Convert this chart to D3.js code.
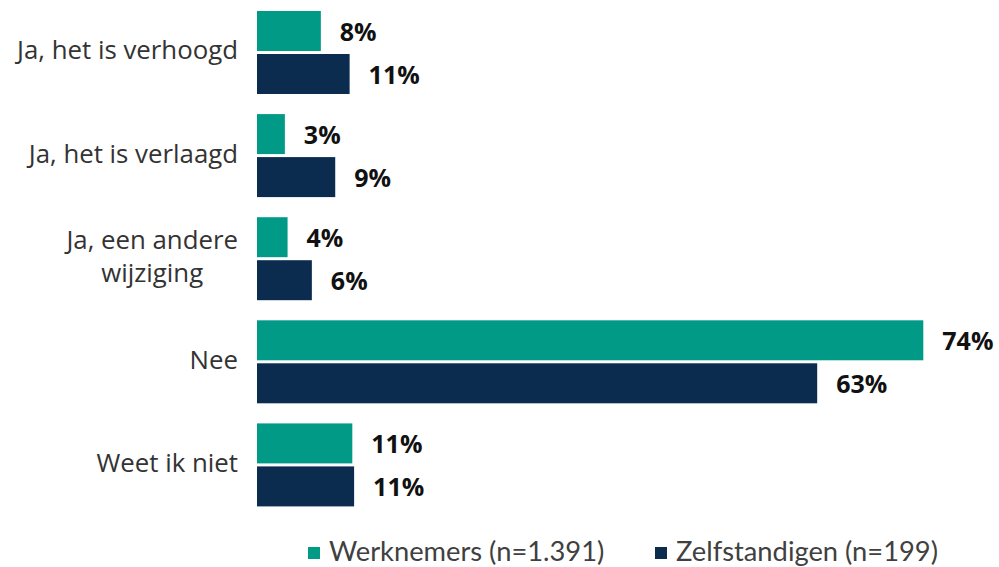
<!DOCTYPE html>
<meta charset="utf-8">
<head>
<script src="https://d3js.org/d3.v7.min.js"></script>
<style>
  body { margin: 0; background: #fff; }
  svg { display: block; }
</style>
</head>
<body>
<svg id="chart"></svg>
<script>
// categories (label lines)
var categories = [
  ["Ja, het is verhoogd"],
  ["Ja, het is verlaagd"],
  ["Ja, een andere", "wijziging"],
  ["Nee"],
  ["Weet ik niet"]
];
var series = ["Werknemers (n=1.391)", "Zelfstandigen (n=199)"];
// bar lengths, in %
var werknemers    = [7.1, 3.1, 3.4, 74.1, 10.6];
var zelfstandigen = [10.3, 8.7, 6.1, 62.3, 10.8];
// printed labels
var werknemersLabels    = ["8%", "3%", "4%", "74%", "11%"];
var zelfstandigenLabels = ["11%", "9%", "6%", "63%", "11%"];
var colors = ["#009A87", "#0B2B4F"];

var W = 999, H = 567;
var svg = d3.select("#chart").attr("width", W).attr("height", H);

var x = d3.scaleLinear().domain([0, 74.1]).range([257, 923.3]);
var y = d3.scaleBand().domain(d3.range(categories.length))
    .range([11, 506.4]).paddingInner(0.195).paddingOuter(0);
var ySub = d3.scaleBand().domain([0, 1]).range([0, y.bandwidth()]).paddingInner(0.07);

var values = [werknemers, zelfstandigen];
var labels = [werknemersLabels, zelfstandigenLabels];

var rows = [];
categories.forEach(function(c, i){
  values.forEach(function(v, s){
    rows.push({cat: i, s: s, v: v[i], label: labels[s][i]});
  });
});

svg.selectAll("rect.bar").data(rows).enter().append("rect")
    .attr("class", "bar")
    .attr("x", x(0))
    .attr("y", function(d){ return y(d.cat) + ySub(d.s); })
    .attr("width", function(d){ return x(d.v) - x(0); })
    .attr("height", ySub.bandwidth())
    .attr("fill", function(d){ return colors[d.s]; });

svg.selectAll("text.val").data(rows).enter().append("text")
    .attr("class", "val")
    .attr("x", function(d){ return x(d.v) + 19; })
    .attr("y", function(d){ return y(d.cat) + ySub(d.s) + ySub.bandwidth()/2 + 3; })
    .attr("dominant-baseline", "middle")
    .attr("font-family", "'Open Sans', sans-serif")
    .attr("font-weight", "bold")
    .attr("font-size", 25)
    .attr("fill", "#111")
    .text(function(d){ return d.label; });

// category labels (multi-line ones are centred on their widest line)
var labelRight = 238;
var catG = svg.selectAll("text.cat").data(categories).enter().append("text")
    .attr("class", "cat")
    .attr("font-family", "'Open Sans', sans-serif")
    .attr("font-size", 25.8)
    .attr("fill", "#333");
catG.each(function(lines, i){
  var t = d3.select(this);
  var cy = y(i) + y.bandwidth()/2;
  var lh = 33;
  var spans = lines.map(function(line, j){
    return t.append("tspan")
      .attr("y", cy + (j - (lines.length - 1)/2) * lh)
      .attr("dominant-baseline", "middle")
      .text(line);
  });
  if (lines.length > 1) {
    var wMax = d3.max(spans, function(s){ return s.node().getComputedTextLength(); });
    t.attr("text-anchor", "middle");
    spans.forEach(function(s){ s.attr("x", labelRight - wMax/2); });
  } else {
    t.attr("text-anchor", "end");
    spans.forEach(function(s){ s.attr("x", labelRight); });
  }
});

// legend
var legendX = [308, 655];
var leg = svg.selectAll("g.leg").data(series).enter().append("g")
    .attr("class", "leg")
    .attr("transform", function(d, i){ return "translate(" + legendX[i] + ",553)"; });
leg.append("rect").attr("x", 0).attr("y", -6).attr("width", 12).attr("height", 12)
    .attr("fill", function(d, i){ return colors[i]; });
leg.append("text").attr("x", 21).attr("y", 1)
    .attr("dominant-baseline", "middle")
    .attr("font-family", "Lato, sans-serif")
    .attr("font-size", 27.3)
    .attr("fill", "#404040")
    .text(function(d){ return d; });
</script>
</body>
